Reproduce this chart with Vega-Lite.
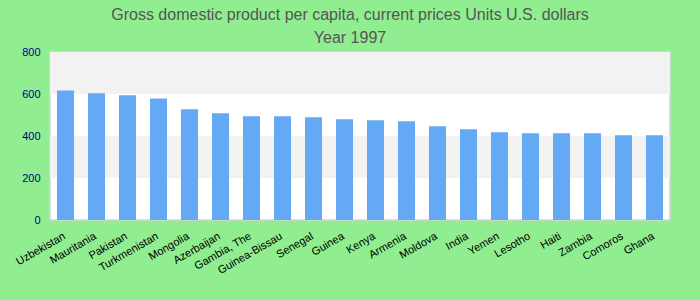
{
  "$schema": "https://vega.github.io/schema/vega-lite/v6.json",
  "width": 620,
  "height": 168,
  "autosize": "none",
  "padding": {"left": 50, "top": 52, "right": 30, "bottom": 80},
  "background": "#90ee90",
  "config": {
    "font": "Liberation Sans",
    "view": {"stroke": "#d4d4d4", "strokeWidth": 1.5, "fill": "#ffffff"}
  },
  "title": {
    "text": ["Gross domestic product per capita, current prices Units U.S. dollars", "Year 1997"],
    "fontSize": 16,
    "fontWeight": "normal",
    "color": "#555555",
    "lineHeight": 23,
    "anchor": "middle",
    "dx": -10,
    "offset": 0
  },
  "datasets": {
    "bands": [{"lo": 200, "hi": 400}, {"lo": 600, "hi": 800}],
    "gdp": [
      {"country": "Uzbekistan", "value": 617},
      {"country": "Mauritania", "value": 603},
      {"country": "Pakistan", "value": 594},
      {"country": "Turkmenistan", "value": 579},
      {"country": "Mongolia", "value": 527},
      {"country": "Azerbaijan", "value": 508},
      {"country": "Gambia, The", "value": 494},
      {"country": "Guinea-Bissau", "value": 494},
      {"country": "Senegal", "value": 489},
      {"country": "Guinea", "value": 480},
      {"country": "Kenya", "value": 475},
      {"country": "Armenia", "value": 470},
      {"country": "Moldova", "value": 446},
      {"country": "India", "value": 432},
      {"country": "Yemen", "value": 418},
      {"country": "Lesotho", "value": 413},
      {"country": "Haiti", "value": 413},
      {"country": "Zambia", "value": 413},
      {"country": "Comoros", "value": 404},
      {"country": "Ghana", "value": 404}
    ]
  },
  "layer": [
    {
      "data": {"name": "bands"},
      "mark": {"type": "rect", "color": "#f2f2f2"},
      "encoding": {
        "y": {"field": "lo", "type": "quantitative", "scale": {"domain": [0, 800]}},
        "y2": {"field": "hi"}
      }
    },
    {
      "data": {"name": "gdp"},
      "mark": {"type": "bar", "color": "#63a9f4"},
      "encoding": {
        "x": {
          "field": "country",
          "type": "nominal",
          "sort": null,
          "scale": {"paddingInner": 0.45, "paddingOuter": 0.225},
          "axis": {
            "title": null,
            "labelAngle": -30,
            "labelColor": "#000000",
            "labelFontSize": 11,
            "labelPadding": 10,
            "labelOffset": -4,
            "domain": false,
            "ticks": false
          }
        },
        "y": {
          "field": "value",
          "type": "quantitative",
          "scale": {"domain": [0, 800]},
          "axis": {
            "title": null,
            "values": [0, 200, 400, 600, 800],
            "grid": false,
            "domain": false,
            "ticks": false,
            "labelColor": "#00008b",
            "labelFontSize": 11,
            "labelPadding": 10
          }
        }
      }
    }
  ]
}
